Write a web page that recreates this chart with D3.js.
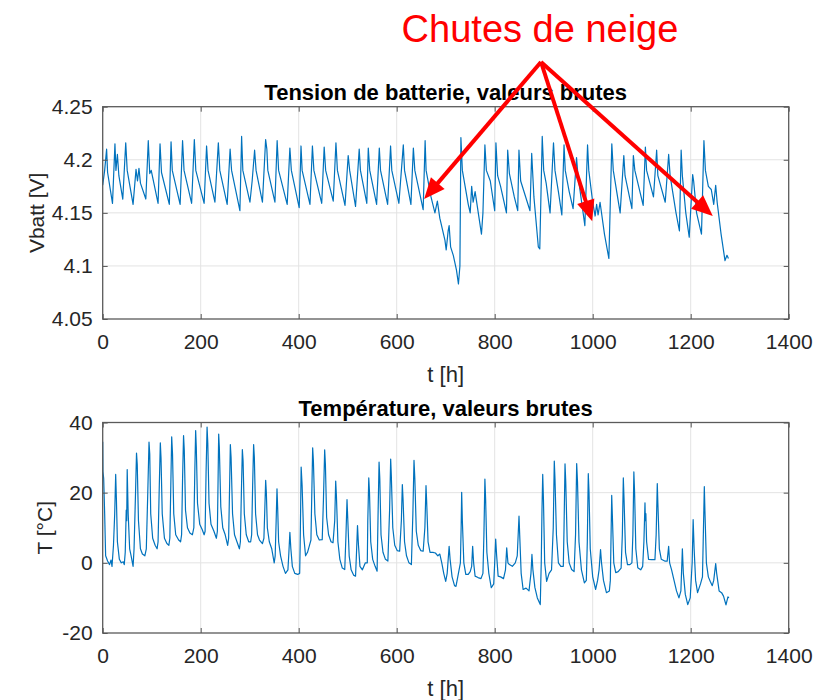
<!DOCTYPE html>
<html>
<head>
<meta charset="utf-8">
<script src="https://cdn.jsdelivr.net/npm/d3@7"></script>
<style>
  body { margin: 0; background: #fff; }
  svg { display: block; }
  text { font-family: "Liberation Sans", Arial, Helvetica, sans-serif; fill: #262626; }
</style>
</head>
<body>
<svg id="chart" width="825" height="700"></svg>
<script>
// ---- data: [hour, value] ----
const hourTicks = [0, 200, 400, 600, 800, 1000, 1200, 1400];
const vbattTicks = [4.05, 4.1, 4.15, 4.2, 4.25];
const vbattTickLabels = ["4.05", "4.1", "4.15", "4.2", "4.25"];
const tempTicks = [-20, 0, 20, 40];
const tempTickLabels = ["-20", "0", "20", "40"];

const vbatt = [
  [0,4.176],[4,4.19],[8,4.210],[10,4.188],[20,4.159],[25,4.215],[27,4.19],[30,4.205],[33,4.185],
  [41,4.163],[47,4.216],[50,4.19],[62,4.158],[68,4.191],[71,4.18],[74,4.192],[77,4.178],
  [88,4.163],[93,4.218],[96,4.187],[99,4.19],[113,4.159],[117,4.215],[120,4.188],
  [136,4.158],[139.5,4.217],[142,4.19],[158,4.158],[163,4.218],[166,4.19],
  [181.5,4.159],[187,4.219],[190,4.19],[207,4.159],[212,4.213],[215,4.19],
  [229,4.16],[236,4.216],[239,4.19],[254,4.158],[260,4.21],[263,4.19],
  [280,4.152],[283.5,4.222],[286,4.19],[300.5,4.16],[305,4.18],[310,4.209],[313,4.19],
  [326,4.16],[332.5,4.219],[335,4.21],[337,4.19],[351.5,4.16],[356,4.218],[359,4.19],
  [376.5,4.158],[382,4.211],[385,4.19],[401,4.155],[404.7,4.213],[407,4.19],
  [423,4.158],[428,4.213],[431,4.19],[447,4.159],[452,4.212],[455,4.19],
  [470.5,4.161],[476,4.216],[479,4.19],[494.5,4.157],[501,4.204],[504,4.19],
  [516,4.156],[523.5,4.21],[526,4.19],[539,4.159],[542,4.211],[545,4.19],
  [559,4.158],[564.5,4.211],[567,4.19],[581.5,4.158],[587.5,4.213],[590,4.19],
  [604.5,4.159],[613.5,4.214],[616,4.19],[629,4.158],[634,4.211],[637,4.19],
  [654,4.153],[658,4.218],[660,4.19],[670,4.165],[678,4.150],[683,4.161],[688,4.145],
  [698.5,4.124],[701,4.115],[705,4.133],[707,4.138],[710,4.118],[715.5,4.11],[722,4.096],
  [726,4.083],[729,4.10],[731,4.221],[734,4.19],[740,4.174],[746,4.158],[750,4.150],
  [753,4.175],[756,4.16],[760,4.17],[773,4.130],[776,4.15],[780,4.214],[783,4.19],
  [791,4.18],[800,4.152],[802.5,4.216],[806,4.185],[812,4.175],[824,4.150],[826.5,4.209],
  [830,4.187],[840,4.165],[847,4.152],[849.5,4.209],[853,4.18],[872,4.152],[875.5,4.206],
  [880,4.165],[889,4.118],[892,4.116],[897,4.222],[900,4.19],[905,4.178],[913,4.150],
  [920,4.216],[923,4.19],[930,4.17],[937,4.148],[941.5,4.214],[944,4.19],[952,4.17],
  [960,4.154],[967,4.202],[970,4.185],[984,4.138],[989.5,4.214],[992,4.19],[1000,4.16],
  [1005,4.147],[1008,4.158],[1011,4.148],[1015,4.16],[1024,4.13],[1033,4.107],[1039,4.215],
  [1042,4.19],[1056,4.15],[1063.5,4.204],[1066,4.185],[1080,4.154],[1083,4.204],[1086,4.19],
  [1103,4.157],[1107.5,4.212],[1110,4.19],[1124,4.165],[1130.5,4.209],[1133,4.185],
  [1148,4.16],[1155,4.205],[1158,4.185],[1170,4.15],[1177,4.133],[1180.5,4.209],[1183,4.185],
  [1190,4.15],[1197,4.127],[1204,4.186],[1206,4.18],[1212,4.15],[1222,4.13],[1227,4.218],
  [1230,4.19],[1236,4.175],[1242,4.172],[1247,4.158],[1251,4.176],[1254,4.16],[1262,4.13],
  [1270,4.105],[1274,4.11],[1277,4.107]
];

const temperature = [
  [0,34.5],[0.5,26],[2,24],[4,14],[6,2],[10,0.5],[14,-0.5],[17,0.8],[19,-1],
  [22,5],[24.5,14],[26.5,25.2],[28,18],[30,6],[34,1],[38,0],[42,0.3],[44,-0.5],
  [46,3],[48,15],[49,12],[50,26.6],[52,14],[55,4],[58,2],[62,-1],
  [64,4],[67,20],[69,31.3],[70.5,28],[73,12],[77,4],[81,2.5],[86,2],
  [89,4],[92,20],[94.5,34.4],[96,31],[98,14],[102,7],[107,5],[111,4],
  [113,6],[115.5,22],[117.6,34.2],[119,30],[121.5,14],[126,7],[131,5.5],[135,5],
  [137,7],[139,22],[140.8,35.9],[142.5,31],[145,14],[149,8],[155,6.5],[159,6],
  [161,8],[163,24],[165,36.3],[166.5,32],[169,15],[173,10],[178,8.5],[183,8],
  [186,10],[188,26],[189.7,37.7],[191,33],[193.5,17],[198,11],[203,9.5],[207,8],
  [209,9],[211,26],[213,38.7],[214.5,34],[217,17],[221,11],[227,9],[232,7],
  [234,9],[235.5,24],[236.7,36.7],[238,33],[241,16],[245,10],[250,8],[255,5],
  [257,7],[259,22],[260.5,33.7],[262,30],[265,14],[269,8],[274,6],[279,4],
  [281,6],[283,20],[285,32.3],[286.5,29],[289,14],[293,8],[298,6],[302,6],
  [304,8],[306,22],[308,33.7],[309.5,30],[312,14],[316,8],[320,6.5],[326,5.5],
  [329,7],[331,16],[332.6,23.5],[334,20],[336,10],[340,6],[345,4],[350,0],
  [352,2],[354,12],[355.7,21.1],[357,16],[359,6],[363,2],[368,-1],[373,-3],
  [378,-2],[380,3],[382,8.7],[384,4],[387,-1],[392,-3],[398,-3.3],[402,-3],
  [403,5],[404,16],[405,27.3],[407,22],[410,8],[414,2],[418,3],[422,5],[425,6.5],
  [426.5,18],[428.5,32.8],[430,29],[433,14],[437,8],[442,6.5],[448,6.6],
  [450.5,18],[453,32.2],[454.5,28],[457,13],[461,8],[466,6],[470,5.7],
  [473.5,12],[475.5,23.3],[477,19],[480,6],[484,1],[489,-1.5],[494,-1.9],
  [496.5,8],[498.6,18],[500,13],[503,2],[507,-2],[512,-3.5],[516,-3.8],
  [518,3],[520,10.6],[522,5],[525,-1],[530,-2],[536,0],[540,0],
  [541,12],[543,24.2],[544.5,20],[547,6],[551,1],[556,-1],[560,-2.4],
  [562,14],[564,28.7],[565.5,24],[568,8],[572,3],[577,1],[582,0.5],
  [585.5,15],[587.7,29.6],[589,25],[592,10],[596,5],[601,3.5],[606,3.3],
  [609.5,12],[611.5,22.3],[613,18],[616,6],[620,2],[625,0],[630,-0.5],
  [633,14],[635.3,29.2],[637,24],[640,9],[644,5],[649,3.5],[654,3.3],
  [657.5,10],[659.8,22],[661,18],[664,6],[668,3],[674,3],[679,2.8],
  [684,2],[688,2.5],[692,0],[696,-3],[700,-5.3],
  [703,-3],[707,4.7],[709,1],[713,-4],[718,-6.5],[721,-6.7],
  [730,0],[731.5,10],[732.6,20.1],[734,12],[737,0],[741,-3.3],[746,-3.3],[750,-2.5],
  [753,-1],[755,4.7],[757,0],[760,-3.8],[766,-4.2],[772,-4.5],[776,-3],
  [778,8],[780,23.9],[781.5,18],[784,3],[788,-3],[793,-7.1],[798,-6],
  [800,0],[802,6.8],[804,2],[807,-3.8],[812,-4],[818,-4.5],[822,-2],
  [824.5,4.3],[827,0],[830,-0.5],[836,-1],[842,0],[846,2],
  [849.6,13.3],[851,8],[854,-3],[858,-7.6],[864,-7.2],[870,-8],
  [874,-3],[876,2.4],[878,-2],[882,-7],[887,-10],[893,-11.9],
  [895,0],[896.5,15],[898,25.2],[899.5,18],[902,0],[906,-5.3],[911,-3],[916,-2],
  [919.5,10],[921.6,29],[923,24],[926,8],[930,0],[935,-1],[940,-1],
  [941.5,10],[943.5,28.2],[945,23],[948,6],[952,0],[957,-1.9],[962,-2.5],
  [965,8],[967.3,28.3],[969,23],[972,6],[977,-2],[983,-5.7],[987,-5],
  [989,6],[991,25.4],[992.5,20],[995,4],[1000,-4],[1006,-7.6],[1010,-5],
  [1013,-2],[1016,3.8],[1018,0],[1022,-5],[1028,-8.5],[1034,-8],[1036,-5],
  [1038.8,19.2],[1040,14],[1043,0],[1047,-2.8],[1052,-2.5],[1058,-1.5],
  [1060.5,8],[1062.5,24.2],[1064,18],[1067,3],[1071,-0.5],[1076,-0.5],[1080,0],
  [1082,8],[1084,25.9],[1085.5,20],[1088,4],[1092,-1.4],[1098,-2],[1102,-1],
  [1104.5,6],[1106.7,17.1],[1107.5,12],[1108.5,14],[1110,6],[1114,1],[1120,0.9],[1127,0.9],
  [1129.5,8],[1131.8,22.6],[1133,17],[1136,4],[1140,1],[1147,0.5],[1152,0.5],
  [1155,4.7],[1157,0],[1161,-2],[1166,-5],[1171,-8],[1176,-10],
  [1180,-8],[1183,4],[1185,-3],[1189,-9],[1194,-11.9],[1199,-10],
  [1203,0],[1205,12.3],[1207,4],[1210,-5],[1214,-8.5],[1220,-6],[1224,-4],
  [1225.5,6],[1227.8,21.7],[1229,15],[1232,0],[1236,-4],[1240,-5.3],[1244,-6.5],[1247,-5],
  [1251,-0.2],[1253,-3],[1258,-8],[1263,-8.5],[1267,-9.5],[1272,-12],[1276,-9.7],[1278,-10]
];

// snowfall events marked on the voltage trace: [hour, volts]
const snowfallLabel = "Chutes de neige";
const snowfallEvents = [[656, 4.163], [999, 4.142], [1245, 4.147]];

// ---- drawing ----
const svg = d3.select("#chart");
const lineBlue = "#0072BD";
const font = '"Liberation Sans", Arial, sans-serif';
const left = 102.7, right = 788.7;

const x = d3.scaleLinear().domain([0, 1400]).range([left, right]);

function panel(cfg) {
  const y = d3.scaleLinear().domain(cfg.domain).range([cfg.bottom, cfg.top]);
  const g = svg.append("g");

  // grid
  g.append("g").selectAll("line").data(hourTicks.slice(1, -1)).join("line")
    .attr("x1", d => x(d)).attr("x2", d => x(d))
    .attr("y1", cfg.top).attr("y2", cfg.bottom)
    .attr("stroke", "#e3e3e3").attr("stroke-width", 1);
  g.append("g").selectAll("line").data(cfg.ticks.slice(1, -1)).join("line")
    .attr("x1", left).attr("x2", right)
    .attr("y1", d => y(d)).attr("y2", d => y(d))
    .attr("stroke", "#e3e3e3").attr("stroke-width", 1);

  // data line
  g.append("path").datum(cfg.data)
    .attr("fill", "none").attr("stroke", lineBlue).attr("stroke-width", 1.2)
    .attr("stroke-linejoin", "round")
    .attr("d", d3.line().x(d => x(d[0])).y(d => y(d[1])));

  // axes (ticks inward, box on)
  const ax = (gen, tr) => g.append("g").attr("transform", tr).call(gen)
    .call(s => s.select(".domain").remove())
    .call(s => s.selectAll(".tick line").attr("stroke", "#555"));
  const bottomAx = ax(d3.axisBottom(x).tickValues(hourTicks).tickSize(-5).tickPadding(15)
    .tickFormat(d3.format("d")), `translate(0,${cfg.bottom})`);
  bottomAx.selectAll("text").attr("font-size", 21).attr("fill", "#262626").attr("font-family", font);
  ax(d3.axisTop(x).tickValues(hourTicks).tickSize(-5).tickFormat(""), `translate(0,${cfg.top})`);
  const leftAx = ax(d3.axisLeft(y).tickValues(cfg.ticks).tickSize(-5)
    .tickFormat((d, i) => cfg.labels[i]).tickPadding(10), `translate(${left},0)`);
  leftAx.selectAll("text").attr("font-size", 21).attr("fill", "#262626").attr("font-family", font);
  ax(d3.axisRight(y).tickValues(cfg.ticks).tickSize(-5).tickFormat(""), `translate(${right},0)`);

  g.append("rect").attr("x", left).attr("y", cfg.top)
    .attr("width", right - left).attr("height", cfg.bottom - cfg.top)
    .attr("fill", "none").attr("stroke", "#5a5a5a").attr("stroke-width", 1.3);

  // labels
  g.append("text").attr("x", (left + right) / 2).attr("y", cfg.top - 7)
    .attr("text-anchor", "middle").attr("font-size", 22).attr("font-weight", "bold")
    .style("fill", "#000").text(cfg.title);
  g.append("text").attr("x", (left + right) / 2).attr("y", cfg.bottom + 63)
    .attr("text-anchor", "middle").attr("font-size", 22).text("t [h]");
  g.append("text").attr("transform", `translate(${cfg.ylabelX},${(cfg.top + cfg.bottom) / 2}) rotate(-90)`)
    .attr("text-anchor", "middle").attr("font-size", 21).text(cfg.ylabel);
  return y;
}

const yV = panel({
  top: 106.7, bottom: 319, domain: [4.05, 4.25], ticks: vbattTicks, labels: vbattTickLabels,
  data: vbatt, title: "Tension de batterie, valeurs brutes", ylabel: "Vbatt [V]", ylabelX: 44
});
panel({
  top: 422.5, bottom: 633, domain: [-20, 40], ticks: tempTicks, labels: tempTickLabels,
  data: temperature, title: "Température, valeurs brutes", ylabel: "T [°C]", ylabelX: 52
});

// annotation: label and arrows toward the snowfall events
const apex = [541, 62];
svg.append("text").attr("x", 540).attr("y", 42).attr("text-anchor", "middle")
  .attr("font-family", "Lato, 'Open Sans', sans-serif").attr("font-size", 38)
  .style("fill", "#ff0000").text(snowfallLabel);

const arrows = svg.append("g");
snowfallEvents.forEach(ev => {
  const tip = [x(ev[0]), yV(ev[1])];
  const dx = tip[0] - apex[0], dy = tip[1] - apex[1];
  const len = Math.hypot(dx, dy), ux = dx / len, uy = dy / len;
  const headL = 21, headW = 9;
  const base = [tip[0] - ux * headL, tip[1] - uy * headL];
  arrows.append("line").attr("x1", apex[0]).attr("y1", apex[1])
    .attr("x2", base[0] + ux * 2).attr("y2", base[1] + uy * 2)
    .attr("stroke", "#ff0000").attr("stroke-width", 4);
  arrows.append("path")
    .attr("d", `M${tip[0]},${tip[1]} L${base[0] - uy * headW},${base[1] + ux * headW} L${base[0] + uy * headW},${base[1] - ux * headW} Z`)
    .attr("fill", "#ff0000");
});
</script>
</body>
</html>
